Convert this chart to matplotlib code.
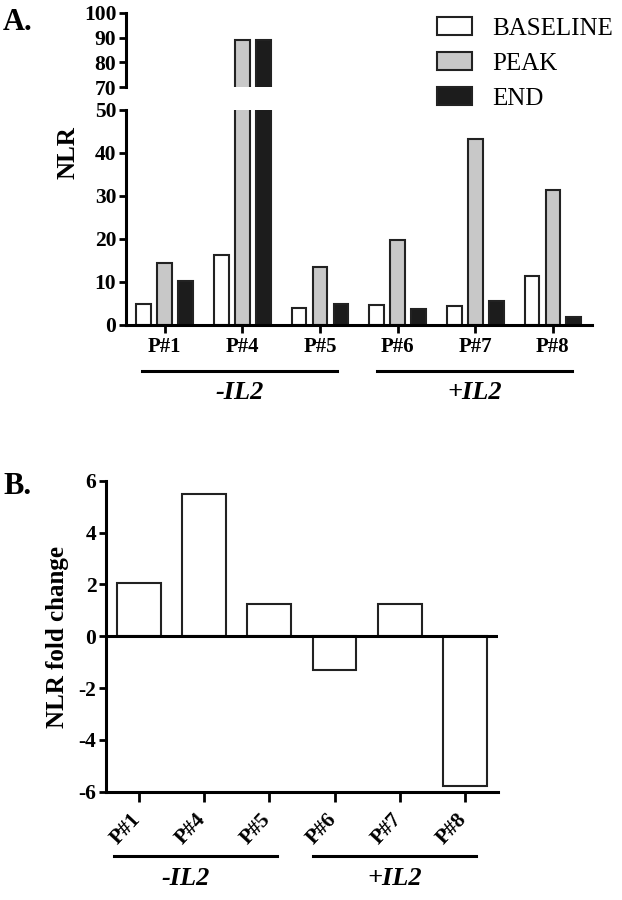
import numpy as np
import matplotlib
matplotlib.use('Agg')
import matplotlib.pyplot as plt
from matplotlib.patches import Patch
from matplotlib import transforms

plt.rcParams['font.family'] = ['Liberation Serif', 'DejaVu Serif']
plt.rcParams['axes.unicode_minus'] = False

patients = ['P#1', 'P#4', 'P#5', 'P#6', 'P#7', 'P#8']
baseline = [4.9, 16.3, 3.9, 4.7, 4.4, 11.4]
peak = [14.3, 89.0, 13.4, 19.8, 43.2, 31.4]
end = [10.2, 89.0, 4.9, 3.7, 5.6, 1.9]
fold_change = [2.07, 5.47, 1.26, -1.31, 1.26, -5.79]
groups = ['-IL2', '+IL2']

series_names = ['BASELINE', 'PEAK', 'END']
series_colors = ['white', '#c8c8c8', '#1c1c1c']

x = np.arange(len(patients))
bw = 0.19
off = 0.27
tick_fs = 15.5

fig = plt.figure(figsize=(6.22, 9), dpi=100)

ax_top = fig.add_axes([0.2026, 0.9033, 0.7487, 0.0823])
ax_bot = fig.add_axes([0.2026, 0.6389, 0.7487, 0.2389])

for ax in (ax_top, ax_bot):
    for i, vals in enumerate([baseline, peak, end]):
        ax.bar(x + (i - 1) * off, vals, bw, color=series_colors[i],
               edgecolor='#222222', linewidth=1.5)
    ax.set_xlim(-0.5, 5.5)
    for s in ['top', 'right']:
        ax.spines[s].set_visible(False)
    ax.spines['left'].set_linewidth(2.2)
    ax.spines['bottom'].set_linewidth(2.2)
    ax.tick_params(width=2.0, length=5, labelsize=tick_fs, pad=2)

ax_top.set_ylim(70, 100)
ax_top.set_yticks([70, 80, 90, 100])
ax_top.spines['bottom'].set_visible(False)
ax_top.set_xticks([])
ax_top.set_yticklabels(['70', '80', '90', '100'], fontweight='bold')

ax_bot.set_ylim(0, 50)
ax_bot.set_yticks([0, 10, 20, 30, 40, 50])
ax_bot.set_yticklabels(['0', '10', '20', '30', '40', '50'], fontweight='bold')
ax_bot.set_xticks(x)
ax_bot.set_xticklabels(patients, fontweight='bold', fontsize=15)
ax_bot.tick_params(axis='x', length=6, pad=3)

fig.text(0.109, 0.83, 'NLR', rotation=90, ha='center', va='center',
         fontsize=18, fontweight='bold')
fig.text(0.005, 0.975, 'A.', fontsize=22, fontweight='bold', ha='left', va='center')

handles = [Patch(facecolor=c, edgecolor='#222222', linewidth=1.5) for c in series_colors]
fig.legend(handles, series_names, loc='upper left', bbox_to_anchor=(0.703, 0.981),
           frameon=False, fontsize=18, handlelength=1.4, handleheight=0.7,
           handletextpad=0.8, labelspacing=0.5, borderpad=0, borderaxespad=0)

# group bars under panel A
trA = transforms.blended_transform_factory(ax_bot.transData, fig.transFigure)
for (x0, x1), g in zip([(-0.29, 2.22), (2.73, 5.25)], groups):
    ax_bot.plot([x0, x1], [0.5882, 0.5882], color='black', lw=2.2,
                transform=trA, clip_on=False)
    ax_bot.text((x0 + x1) / 2, 0.5644, g, transform=trA, ha='center', va='center',
                fontsize=19, fontweight='bold', fontstyle='italic')

# panel B
axB = fig.add_axes([0.1704, 0.1203, 0.6298, 0.3456])
axB.bar(x, fold_change, 0.67, color='white', edgecolor='#222222', linewidth=1.5)
axB.axhline(0, color='black', lw=2.2)
axB.set_xlim(-0.5, 5.5)
axB.set_ylim(-6, 6)
axB.set_yticks([-6, -4, -2, 0, 2, 4, 6])
axB.set_yticklabels(['-6', '-4', '-2', '0', '2', '4', '6'], fontweight='bold')
axB.set_xticks(x)
axB.set_xticklabels(patients, fontweight='bold', fontsize=13.5, rotation=47, ha='right')
for s in ['top', 'right']:
    axB.spines[s].set_visible(False)
axB.spines['left'].set_linewidth(2.2)
axB.spines['bottom'].set_linewidth(2.2)
axB.tick_params(width=2.0, length=5, labelsize=tick_fs, pad=2)
axB.tick_params(axis='x', length=7, pad=6)
shift = transforms.ScaledTranslation(6 / 100, 0, fig.dpi_scale_trans)
for lab in axB.get_xticklabels():
    lab.set_transform(lab.get_transform() + shift)

fig.text(0.093, 0.292, 'NLR fold change', rotation=90, ha='center', va='center',
         fontsize=18, fontweight='bold')
fig.text(0.005, 0.46, 'B.', fontsize=22, fontweight='bold', ha='left', va='center')

trB = transforms.blended_transform_factory(axB.transData, fig.transFigure)
for (x0, x1), g, dx in zip([(-0.38, 2.12), (2.67, 5.17)], groups, [-0.15, 0]):
    axB.plot([x0, x1], [0.0489, 0.0489], color='black', lw=2.2,
             transform=trB, clip_on=False)
    axB.text((x0 + x1) / 2 + dx, 0.0244, g, transform=trB, ha='center', va='center',
             fontsize=19, fontweight='bold', fontstyle='italic')

fig.savefig('out.png', dpi=100)
